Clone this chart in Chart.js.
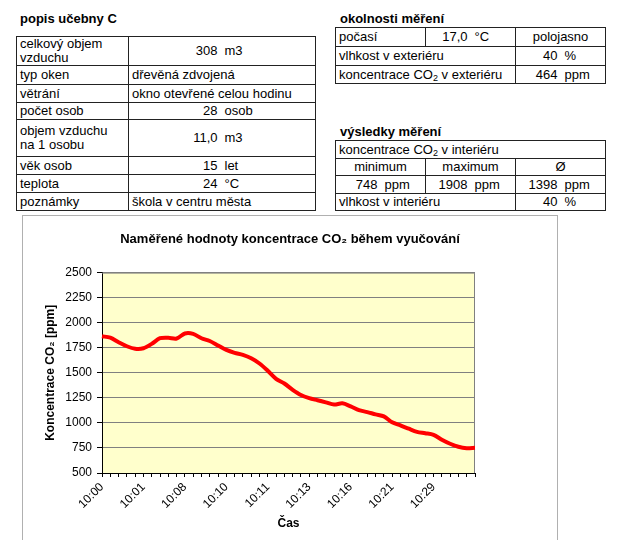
<!DOCTYPE html>
<html>
<head>
<meta charset="utf-8">
<script src="https://cdn.jsdelivr.net/npm/chart.js@4"></script>
<style>
  body { margin: 0; width: 622px; height: 540px; overflow: hidden; background: #fff;
    font-family: "Liberation Sans", Arial, sans-serif; font-size: 13px; color: #000; }
  .ttl { position: absolute; font-weight: bold; font-size: 13px; line-height: 15px; }
  table { position: absolute; border-collapse: collapse; table-layout: fixed; }
  td { border: 1px solid #222; padding: 0 3px; line-height: 14px; white-space: nowrap; overflow: hidden; }
  td.n { text-align: right; border-right: none; padding-right: 3px; }
  td.u { text-align: left; border-left: none; padding-left: 4px; }
  td.c { text-align: center; }
  sub { font-size: 9px; vertical-align: -2px; line-height: 0; }
  #box { position: absolute; left: 22px; top: 215px; width: 534px; height: 340px; border: 1px solid #b0b0b0; }
  #wrap { position: absolute; left: 23px; top: 216px; width: 534px; height: 324px; }
</style>
</head>
<body>
<div class="ttl" style="left:20px;top:11px">popis učebny C</div>
<table style="left:16px;top:36px;width:299px">
  <colgroup><col style="width:112px"><col style="width:92px"><col style="width:95px"></colgroup>
  <tr style="height:29px"><td>celkový objem<br>vzduchu</td><td class="n">308</td><td class="u">m3</td></tr>
  <tr style="height:19px"><td>typ oken</td><td colspan="2">dřevěná zdvojená</td></tr>
  <tr style="height:18px"><td>větrání</td><td colspan="2">okno otevřené celou hodinu</td></tr>
  <tr style="height:17px"><td>počet osob</td><td class="n">28</td><td class="u">osob</td></tr>
  <tr style="height:37px"><td>objem vzduchu<br>na 1 osobu</td><td class="n">11,0</td><td class="u">m3</td></tr>
  <tr style="height:18px"><td>věk osob</td><td class="n">15</td><td class="u">let</td></tr>
  <tr style="height:18px"><td>teplota</td><td class="n">24</td><td class="u">°C</td></tr>
  <tr style="height:18px"><td>poznámky</td><td colspan="2">škola v centru města</td></tr>
</table>

<div class="ttl" style="left:340px;top:11px">okolnosti měření</div>
<table style="left:335px;top:27px;width:270px">
  <colgroup><col style="width:45px"><col style="width:45px"><col style="width:45px"><col style="width:45px"><col style="width:45px"><col style="width:45px"></colgroup>
  <tr style="height:19px"><td colspan="2">počasí</td><td class="n">17,0</td><td class="u">°C</td><td colspan="2" class="c">polojasno</td></tr>
  <tr style="height:19px"><td colspan="4">vlhkost v exteriéru</td><td class="n">40</td><td class="u">%</td></tr>
  <tr style="height:18px"><td colspan="4">koncentrace CO<sub>2</sub> v exteriéru</td><td class="n">464</td><td class="u">ppm</td></tr>
</table>

<div class="ttl" style="left:340px;top:124px">výsledky měření</div>
<table style="left:335px;top:140px;width:270px">
  <colgroup><col style="width:45px"><col style="width:45px"><col style="width:45px"><col style="width:45px"><col style="width:45px"><col style="width:45px"></colgroup>
  <tr style="height:18px"><td colspan="6">koncentrace CO<sub>2</sub> v interiéru</td></tr>
  <tr style="height:17px"><td colspan="2" class="c">minimum</td><td colspan="2" class="c">maximum</td><td colspan="2" class="c">Ø</td></tr>
  <tr style="height:18px"><td class="n">748</td><td class="u">ppm</td><td class="n">1908</td><td class="u">ppm</td><td class="n">1398</td><td class="u">ppm</td></tr>
  <tr style="height:17px"><td colspan="4">vlhkost v interiéru</td><td class="n">40</td><td class="u">%</td></tr>
</table>

<div id="box"></div>
<div id="wrap"><canvas id="chart"></canvas></div>

<script>
// measured times (one per reading)
const times = [
  '10:00', '10:00', '10:00', '10:01', '10:01', '10:01', '10:02', '10:04', '10:05', '10:07',
  '10:08', '10:08', '10:09', '10:09', '10:10', '10:10', '10:10', '10:11', '10:11', '10:11',
  '10:11', '10:12', '10:12', '10:12', '10:13', '10:13', '10:14', '10:14', '10:15', '10:15',
  '10:16', '10:17', '10:18', '10:19', '10:20', '10:21', '10:22', '10:24', '10:25', '10:27',
  '10:29', '10:30', '10:32', '10:33', '10:35', '10:36'
]
// CO2 concentration in ppm
const co2 = [
  1865, 1850, 1805, 1765, 1740, 1745, 1789, 1845, 1850, 1842,
  1892, 1888, 1845, 1817, 1772, 1728, 1699, 1679, 1645, 1593,
  1520, 1440, 1393, 1330, 1278, 1247, 1226, 1205, 1183, 1195,
  1165, 1127, 1108, 1085, 1065, 1006, 975, 942, 911, 897,
  880, 832, 792, 762, 748, 752
]
// readings whose time is printed on the axis
const labelledIdx = [0, 5, 10, 15, 20, 25, 30, 35, 40]
const yTicks = { min: 500, max: 2500, stepSize: 250 }

Chart.defaults.font.family = '"Liberation Sans", Arial, sans-serif'
Chart.defaults.color = '#000'

// yellow plot background + grey frame
const plotFrame = {
  id: 'plotFrame',
  beforeDraw(chart) {
    const { ctx, chartArea: a } = chart
    ctx.save()
    ctx.fillStyle = '#FFFFCC'
    ctx.fillRect(a.left, a.top, a.right - a.left, a.bottom - a.top)
    ctx.restore()
  },
  beforeDatasetsDraw(chart) {
    const { ctx, chartArea: a } = chart
    ctx.save()
    ctx.strokeStyle = '#808080'
    ctx.lineWidth = 1
    ctx.beginPath()
    ctx.moveTo(a.left, a.top + 0.5)
    ctx.lineTo(a.right - 0.5, a.top + 0.5)
    ctx.lineTo(a.right - 0.5, a.bottom)
    ctx.stroke()
    ctx.restore()
  }
}

new Chart(document.getElementById('chart'), {
  type: 'line',
  data: {
    labels: times,
    datasets: [{
      data: co2,
      borderColor: '#FF0000',
      borderWidth: 4,
      pointRadius: 0,
      tension: 0.3,
      fill: false
    }]
  },
  options: {
    responsive: true,
    maintainAspectRatio: false,
    animation: false,
    layout: { padding: 0 },
    plugins: {
      legend: { display: false },
      tooltip: { enabled: false },
      title: {
        display: true,
        text: 'Naměřené hodnoty koncentrace CO₂ během vyučování',
        font: { size: 13, weight: 'bold' },
        color: '#000',
        padding: { top: 16, bottom: 25 }
      }
    },
    scales: {
      x: {
        grid: { drawOnChartArea: false, tickLength: 4, color: '#000' },
        border: { color: '#000' },
        ticks: {
          autoSkip: false,
          minRotation: 45,
          maxRotation: 45,
          padding: 3,
          font: { size: 12 },
          callback: (v, i) => (labelledIdx.includes(i) ? times[i] : '')
        },
        title: {
          display: true,
          text: 'Čas',
          font: { size: 12, weight: 'bold' },
          padding: { top: 0, bottom: 9 }
        },
        afterFit: (s) => { s.height = 67 }
      },
      y: {
        ...yTicks,
        grid: { color: '#808080', tickColor: '#000', tickLength: 5 },
        border: { color: '#000' },
        ticks: {
          stepSize: yTicks.stepSize,
          padding: 5,
          font: { size: 12 },
          callback: (v) => String(v)
        },
        title: {
          display: true,
          text: 'Koncentrace CO₂ [ppm]',
          font: { size: 12, weight: 'bold' },
          padding: { top: 20, bottom: 0 }
        },
        afterFit: (s) => { s.width = 79 }
      },
      spacer: {
        position: 'right',
        grid: { display: false },
        border: { display: false },
        ticks: { display: false },
        afterFit: (s) => { s.width = 82 }
      }
    }
  },
  plugins: [plotFrame]
})
</script>
</body>
</html>
